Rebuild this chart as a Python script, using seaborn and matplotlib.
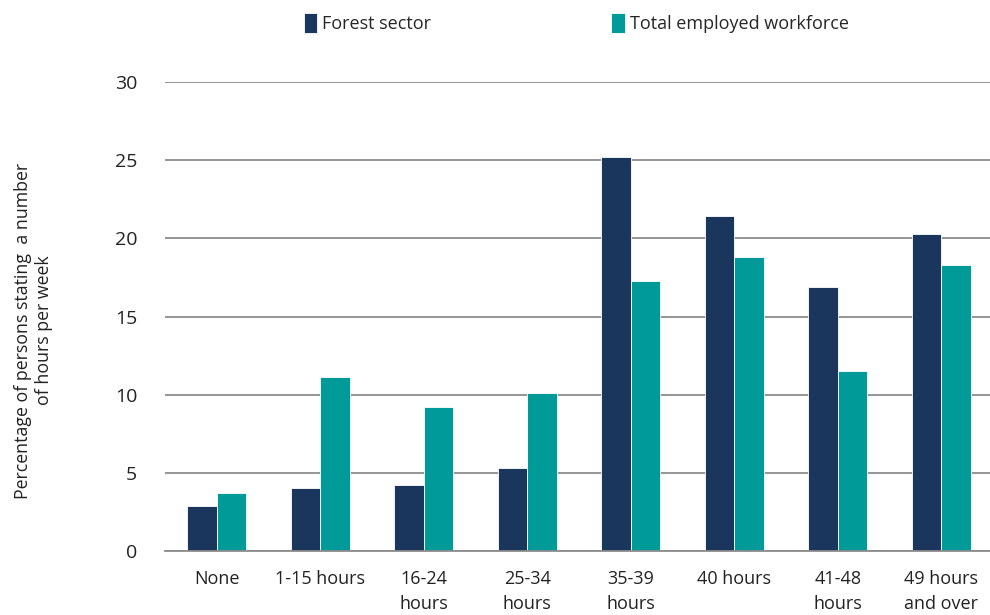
import matplotlib
matplotlib.use("Agg")
import matplotlib.pyplot as plt
import pandas as pd
import seaborn as sns
from matplotlib.ticker import FixedLocator

# Data
categories = ['None', '1-15 hours', '16-24\nhours', '25-34\nhours', '35-39\nhours',
              '40 hours', '41-48\nhours', '49 hours\nand over']
forest_sector = [2.9, 4.0, 4.2, 5.3, 25.2, 21.4, 16.9, 20.3]
total_workforce = [3.7, 11.1, 9.2, 10.1, 17.3, 18.8, 11.5, 18.3]
series_names = ['Forest sector', 'Total employed workforce']
colors = ['#1B365D', '#009B98']

df = pd.DataFrame({
    'Category': categories * 2,
    'Value': forest_sector + total_workforce,
    'Series': [series_names[0]] * len(categories) + [series_names[1]] * len(categories),
})

sns.set_style('white')
plt.rcParams['font.family'] = ['Open Sans', 'DejaVu Sans']

fig = plt.figure(figsize=(9.9, 6.15), dpi=100, facecolor='white')
ax = fig.add_axes([165 / 990, 64 / 615, 828 / 990, 469 / 615])

sns.barplot(data=df, x='Category', y='Value', hue='Series', palette=colors,
            order=categories, hue_order=series_names, width=0.57, saturation=1,
            edgecolor='white', linewidth=0.6, ax=ax, legend=True)

ax.set_ylim(0, 30)
ax.set_xlim(-0.5, len(categories) - 0.5)
ax.set_yticks([0, 5, 10, 15, 20, 25, 30])
ax.yaxis.grid(True, color='#8c8c8c', linewidth=1.3)
ax.set_axisbelow(True)
ax.set_xlabel('')
ax.set_ylabel('Percentage of persons stating  a number\nof hours per week',
              fontsize=12.8, color='#222222')
ax.yaxis.set_label_coords(-0.135, 0.47)

for s in ['top', 'right', 'left']:
    ax.spines[s].set_visible(False)
ax.spines['bottom'].set_color('#8c8c8c')
ax.spines['bottom'].set_linewidth(1.3)

ax.tick_params(axis='y', length=0, labelsize=14, pad=20, colors='#222222')
ax.tick_params(axis='x', which='major', length=0, labelsize=13, pad=14, colors='#222222')
for lbl in ax.get_xticklabels():
    lbl.set_linespacing(1.45)
ax.xaxis.set_minor_locator(FixedLocator([i - 0.5 for i in range(len(categories) + 1)]))
ax.tick_params(axis='x', which='minor', length=6, width=1.2, color='#8c8c8c', direction='out')

handles, labels = ax.get_legend_handles_labels()
ax.get_legend().remove()
fig.legend(handles, labels, loc='center', bbox_to_anchor=(0.582, 0.962), ncol=2,
           frameon=False, fontsize=13, handlelength=0.75, handleheight=1.3,
           handletextpad=0.25, columnspacing=10)

fig.savefig('out.png', dpi=100, facecolor='white')
